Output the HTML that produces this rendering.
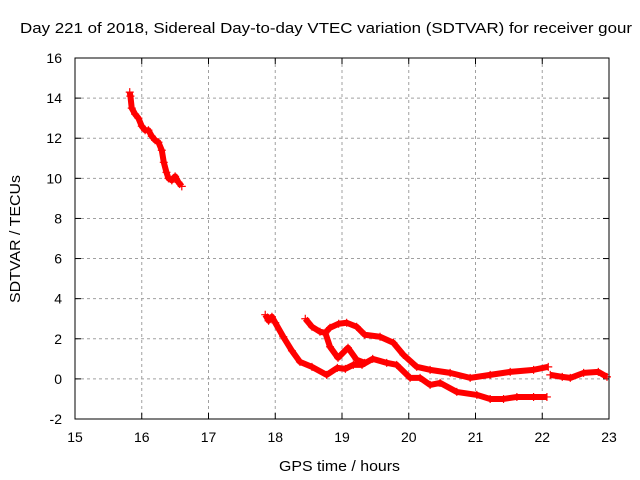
<!DOCTYPE html>
<html><head><meta charset="utf-8"><style>
body{margin:0;background:#fff;}
svg{display:block;font-family:"Liberation Sans",sans-serif;}
</style></head><body>
<svg id="chart" width="640" height="480">
<text x="20" y="33" font-size="15" textLength="612" lengthAdjust="spacingAndGlyphs">Day 221 of 2018, Sidereal Day-to-day VTEC variation (SDTVAR) for receiver gour</text>
<text x="279" y="471" font-size="15" textLength="121" lengthAdjust="spacingAndGlyphs">GPS time / hours</text>
<text transform="translate(20,303) rotate(-90)" font-size="15" textLength="128" lengthAdjust="spacingAndGlyphs">SDTVAR / TECUs</text>
<g id="grid"></g><g id="ticks"></g><g id="marks"></g>
<rect x="75" y="58" width="534" height="361" fill="none" stroke="#000" stroke-width="1"/>
</svg>
<script>
const xTicks=[15,16,17,18,19,20,21,22,23];
const yTicks=[-2,0,2,4,6,8,10,12,14,16];
const seriesA_t=[15.82,15.83,15.85,15.9,15.95,16.0,16.05,16.1,16.15,16.2,16.25,16.3,16.33,16.37,16.4,16.45,16.5,16.55,16.6];
const seriesA_v=[14.3,14.1,13.5,13.2,13.0,12.6,12.4,12.4,12.1,11.9,11.8,11.4,10.8,10.3,10.0,9.9,10.1,9.8,9.6];
const seriesB_t=[17.85,17.9,17.95,18.0,18.12,18.25,18.37,18.55,18.77,18.93,19.05,19.17,19.3,19.46,19.67,19.82,20.02,20.17,20.32,20.47,20.72,21.02,21.22,21.42,21.62,21.87,22.07];
const seriesB_v=[3.2,2.9,3.1,2.8,2.1,1.4,0.85,0.6,0.2,0.55,0.5,0.7,0.7,1.0,0.8,0.7,0.05,0.05,-0.3,-0.2,-0.65,-0.8,-1.0,-1.0,-0.9,-0.9,-0.9];
const seriesC_t=[18.45,18.55,18.67,18.75,18.82,18.95,19.07,19.22,19.34,19.57,19.77,19.92,20.12,20.32,20.62,20.92,21.22,21.52,21.87,22.09];
const seriesC_v=[3.0,2.6,2.35,2.3,2.55,2.75,2.8,2.6,2.2,2.1,1.8,1.2,0.6,0.45,0.3,0.05,0.2,0.35,0.45,0.6];
const seriesD_t=[18.75,18.82,18.94,19.09,19.22,19.34];
const seriesD_v=[2.3,1.6,1.05,1.55,0.95,0.8];
const seriesE_t=[22.12,22.3,22.42,22.62,22.84,22.97];
const seriesE_v=[0.2,0.1,0.05,0.3,0.35,0.1];
const X0=75,X1=609,Y0=419,Y1=58;
function xs(t){return X0+(t-15)/(23-15)*(X1-X0);}
function ys(v){return Y0-(v+2)/(16+2)*(Y0-Y1);}
const NS="http://www.w3.org/2000/svg";
const grid=document.getElementById('grid'),ticks=document.getElementById('ticks'),marks=document.getElementById('marks');
function mk(tag,attrs,parent){const e=document.createElementNS(NS,tag);for(const k in attrs)e.setAttribute(k,attrs[k]);parent.appendChild(e);return e;}
xTicks.forEach(t=>{const x=xs(t);
 if(t>15&&t<23){const g=mk('line',{x1:x,x2:x,y1:Y1,y2:Y0,stroke:'#a0a0a0','stroke-dasharray':'3,3'},grid);
 
 }
 mk('line',{x1:x,x2:x,y1:Y0,y2:Y0-6,stroke:'#000'},ticks);mk('line',{x1:x,x2:x,y1:Y1,y2:Y1+6,stroke:'#000'},ticks);
 const l=mk('text',{x:x,y:442,'font-size':14,'text-anchor':'middle'},ticks);l.textContent=t;
 
 });
yTicks.forEach(v=>{const y=ys(v);
 if(v>-2&&v<16){const g=mk('line',{x1:X0,x2:X1,y1:y,y2:y,stroke:'#a0a0a0','stroke-dasharray':'3,3'},grid);
 
 }
 mk('line',{x1:X0,x2:X0+6,y1:y,y2:y,stroke:'#000'},ticks);mk('line',{x1:X1,x2:X1-6,y1:y,y2:y,stroke:'#000'},ticks);
 const l=mk('text',{x:X0-13,y:y+5,'font-size':14,'text-anchor':'end'},ticks);l.textContent=v;
 
 });
function drawSeries(ts,vs,name){
 const g=mk('g',{},marks);
 
 
 const pts=ts.map((t,i)=>xs(t)+','+ys(vs[i])).join(' ');
 mk('polyline',{points:pts,fill:'none',stroke:'#ff0000','stroke-width':6,'stroke-linejoin':'round'},g);
 ts.forEach((t,i)=>{const x=xs(t),y=ys(vs[i]);
  const p=mk('path',{d:`M${x-4},${y}H${x+4}M${x},${y-4}V${y+4}`,stroke:'#ff0000','stroke-width':1.2},g);
  
  });
}
drawSeries(seriesA_t,seriesA_v,'series-early');
drawSeries(seriesB_t,seriesB_v,'series-lower');
drawSeries(seriesC_t,seriesC_v,'series-upper');
drawSeries(seriesD_t,seriesD_v,'series-branch');
drawSeries(seriesE_t,seriesE_v,'series-late');
</script>
</body></html>
